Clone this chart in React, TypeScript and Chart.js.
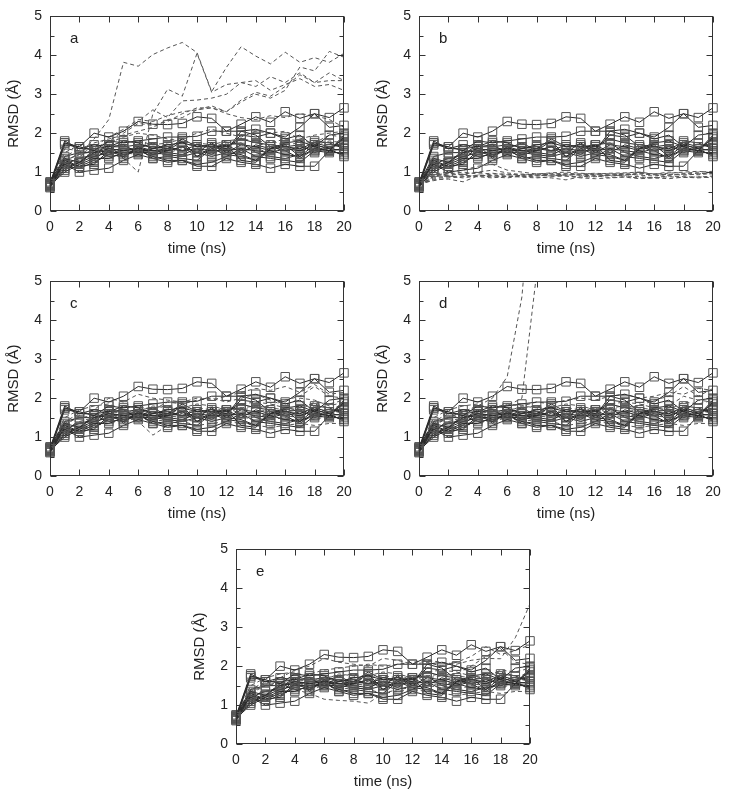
import React, { useEffect, useRef } from "react";
import { Chart, registerables } from "chart.js";

Chart.register(...registerables);

const TIME = [0, 1, 2, 3, 4, 5, 6, 7, 8, 9, 10, 11, 12, 13, 14, 15, 16, 17, 18, 19, 20];
const X_TICKS = [0, 2, 4, 6, 8, 10, 12, 14, 16, 18, 20];
const Y_TICKS = [0, 1, 2, 3, 4, 5];
const X_TITLE = "time (ns)";
const Y_TITLE = "RMSD (Å)";

// reference runs (solid lines, square markers) — identical in every panel
const ref1 = [0.70, 1.75, 1.65, 2.00, 1.90, 2.05, 2.30, 2.23, 2.22, 2.25, 2.42, 2.38, 2.05, 2.23, 2.42, 2.28, 2.55, 2.38, 2.50, 2.40, 2.65];
const ref2 = [0.65, 1.70, 1.65, 1.55, 1.80, 1.75, 1.80, 1.85, 1.90, 1.90, 1.92, 2.05, 2.05, 2.05, 2.10, 2.00, 1.90, 2.15, 2.50, 2.15, 2.20];
const ref3 = [0.72, 1.80, 1.60, 1.70, 1.65, 1.80, 1.75, 1.60, 1.70, 1.75, 1.65, 1.70, 1.60, 1.95, 1.90, 2.00, 1.85, 1.95, 1.65, 1.95, 2.00];
const ref4 = [0.68, 1.35, 1.25, 1.50, 1.60, 1.55, 1.60, 1.55, 1.55, 1.80, 1.40, 1.60, 1.70, 1.30, 1.25, 1.60, 1.75, 1.80, 1.65, 1.55, 1.90];
const ref5 = [0.62, 1.25, 1.15, 1.20, 1.55, 1.40, 1.65, 1.45, 1.55, 1.65, 1.50, 1.75, 1.50, 1.45, 1.30, 1.60, 1.70, 1.40, 1.70, 1.60, 1.85];
const ref6 = [0.75, 1.20, 1.00, 1.05, 1.10, 1.30, 1.45, 1.35, 1.25, 1.30, 1.15, 1.15, 1.35, 1.25, 1.20, 1.10, 1.20, 1.15, 1.15, 1.55, 1.45];
const ref7 = [0.66, 1.00, 1.20, 1.35, 1.35, 1.50, 1.55, 1.40, 1.30, 1.30, 1.20, 1.25, 1.40, 1.60, 1.40, 1.35, 1.30, 1.25, 1.55, 1.50, 1.50];
const ref8 = [0.70, 1.05, 1.25, 1.40, 1.50, 1.50, 1.50, 1.50, 1.45, 1.40, 1.50, 1.40, 1.50, 1.70, 1.65, 1.55, 1.45, 1.40, 1.60, 1.55, 1.60];
const ref9 = [0.64, 1.30, 1.15, 1.30, 1.65, 1.65, 1.70, 1.65, 1.60, 1.55, 1.70, 1.65, 1.65, 1.85, 1.75, 1.70, 1.65, 1.60, 1.75, 1.65, 1.75];
const ref10 = [0.68, 1.75, 1.60, 1.60, 1.65, 1.70, 1.50, 1.60, 1.65, 1.55, 1.60, 1.55, 1.55, 1.60, 1.55, 1.50, 1.60, 1.55, 1.70, 1.60, 1.55];
const ref11 = [0.72, 1.40, 1.50, 1.50, 1.55, 1.60, 1.60, 1.75, 1.55, 1.65, 1.40, 1.65, 1.70, 1.50, 1.70, 1.60, 1.65, 1.70, 1.50, 1.65, 1.70];
const ref12 = [0.60, 1.10, 1.25, 1.55, 1.40, 1.45, 1.55, 1.55, 1.60, 1.85, 1.65, 1.65, 1.55, 2.05, 1.95, 1.65, 1.55, 1.35, 1.60, 1.55, 1.95];
const ref13 = [0.70, 1.20, 1.35, 1.45, 1.70, 1.35, 1.65, 1.55, 1.50, 1.45, 1.60, 1.45, 1.70, 1.75, 1.50, 1.40, 1.35, 1.45, 1.80, 1.75, 1.60];
const ref14 = [0.66, 1.15, 1.10, 1.25, 1.45, 1.55, 1.60, 1.35, 1.40, 1.35, 1.30, 1.60, 1.45, 1.40, 1.30, 1.65, 1.55, 1.65, 1.55, 1.60, 1.40];
const REF_SERIES = [ref1, ref2, ref3, ref4, ref5, ref6, ref7, ref8, ref9, ref10, ref11, ref12, ref13, ref14];

// panel a (dashed)
const a1 = [0.70, 1.25, 1.50, 1.85, 2.35, 3.82, 3.72, 4.02, 4.19, 4.33, 4.07, 3.07, 3.69, 4.22, 3.98, 3.78, 4.08, 3.82, 3.94, 3.82, 4.05];
const a2 = [0.65, 1.10, 1.30, 1.40, 1.50, 1.35, 1.00, 2.50, 3.13, 2.95, 4.05, 3.05, 3.25, 3.30, 3.20, 3.45, 3.30, 3.55, 3.30, 3.55, 3.35];
const a3 = [0.70, 1.20, 1.40, 1.60, 1.80, 2.05, 2.30, 2.60, 2.40, 2.83, 2.85, 2.90, 3.00, 3.30, 3.35, 3.10, 3.25, 3.40, 3.20, 3.25, 3.10];
const a4 = [0.68, 1.30, 1.45, 1.65, 1.90, 2.10, 2.35, 2.30, 2.45, 2.55, 2.60, 2.70, 2.55, 2.80, 3.00, 2.90, 3.10, 3.70, 3.60, 4.10, 3.95];
const a5 = [0.66, 1.15, 1.35, 1.50, 1.70, 2.00, 2.25, 2.20, 2.30, 2.50, 2.65, 2.65, 2.55, 2.85, 3.05, 2.95, 3.20, 3.50, 3.30, 3.35, 3.35];
const a6 = [0.70, 1.40, 1.60, 1.75, 1.85, 1.95, 2.05, 2.15, 2.35, 2.40, 2.60, 2.65, 2.50, 2.40, 2.35, 2.45, 2.40, 2.50, 2.45, 2.35, 2.15];
const a7 = [0.72, 1.50, 1.70, 1.55, 1.60, 1.75, 1.80, 1.70, 1.75, 1.85, 2.00, 2.10, 2.00, 1.90, 2.05, 2.00, 2.05, 1.85, 1.95, 2.00, 2.05];
const a8 = [0.64, 1.30, 1.45, 1.55, 1.45, 1.60, 1.55, 1.45, 1.50, 1.60, 1.55, 1.60, 1.45, 1.55, 1.60, 1.50, 1.60, 1.55, 1.60, 1.55, 1.60];
const a9 = [0.68, 1.20, 1.30, 1.40, 1.55, 1.50, 1.45, 1.60, 1.70, 1.65, 1.75, 1.70, 1.80, 1.85, 1.80, 1.75, 1.85, 1.80, 1.75, 1.95, 1.90];
const a10 = [0.70, 1.60, 1.55, 1.65, 1.75, 1.90, 2.00, 1.95, 1.85, 1.80, 1.70, 1.65, 1.75, 1.70, 1.65, 1.80, 1.70, 1.75, 1.70, 1.80, 1.75];

// panel b (dashed)
const b1 = [0.70, 0.85, 0.90, 0.85, 0.90, 0.92, 0.90, 0.88, 0.90, 0.92, 0.95, 0.92, 0.90, 0.92, 0.95, 0.92, 0.90, 0.95, 0.92, 0.95, 1.00];
const b2 = [0.66, 0.95, 1.00, 1.05, 1.15, 1.20, 1.05, 1.00, 0.95, 0.98, 1.00, 0.97, 0.95, 0.97, 0.98, 1.00, 0.95, 0.97, 1.00, 1.02, 0.98];
const b3 = [0.68, 0.80, 0.82, 0.75, 0.90, 0.88, 0.85, 0.90, 0.87, 0.85, 0.80, 0.88, 0.90, 0.86, 0.88, 0.85, 0.86, 0.90, 0.88, 0.87, 0.90];
const b4 = [0.64, 0.90, 0.95, 1.00, 0.95, 0.97, 0.93, 0.95, 0.92, 0.90, 0.93, 0.92, 0.94, 0.90, 0.92, 0.95, 0.93, 0.92, 0.95, 0.97, 0.95];
const b5 = [0.70, 0.78, 0.85, 0.88, 0.92, 0.90, 0.88, 0.92, 0.95, 0.93, 0.90, 0.87, 0.88, 0.92, 0.90, 0.88, 0.85, 0.88, 0.86, 0.88, 0.85];
const b6 = [0.66, 0.88, 0.92, 0.95, 1.00, 1.05, 0.98, 0.93, 0.95, 0.97, 0.92, 0.95, 0.97, 0.95, 0.93, 0.97, 0.95, 1.00, 0.97, 1.00, 1.02];
const b7 = [0.68, 0.82, 0.88, 0.90, 0.88, 0.85, 0.90, 0.87, 0.85, 0.88, 0.90, 0.85, 0.83, 0.85, 0.87, 0.83, 0.85, 0.83, 0.87, 0.85, 0.88];
const b8 = [0.72, 0.92, 0.97, 0.92, 0.90, 0.95, 0.95, 0.90, 0.92, 0.95, 0.97, 0.95, 0.92, 0.95, 0.97, 0.98, 0.95, 0.93, 0.95, 0.93, 0.97];

// panel c (dashed)
const c1 = [0.70, 1.30, 1.55, 1.70, 2.00, 1.90, 2.10, 2.00, 1.95, 1.90, 2.00, 1.95, 2.05, 2.15, 2.25, 2.20, 2.30, 2.15, 2.35, 2.10, 2.15];
const c2 = [0.66, 1.20, 1.40, 1.50, 1.65, 1.75, 1.80, 1.70, 1.90, 1.85, 1.95, 2.00, 1.90, 2.00, 2.10, 1.95, 1.80, 2.00, 1.95, 1.80, 1.90];
const c3 = [0.68, 1.15, 1.25, 1.35, 1.40, 1.55, 1.40, 1.05, 1.30, 1.45, 1.40, 1.50, 1.60, 1.55, 1.40, 1.45, 1.50, 1.40, 1.55, 1.50, 1.55];
const c4 = [0.72, 1.40, 1.60, 1.60, 1.55, 1.60, 1.65, 1.55, 1.60, 1.70, 1.75, 1.70, 1.65, 1.75, 1.80, 1.75, 1.70, 1.80, 1.85, 1.75, 1.80];
const c5 = [0.64, 1.05, 1.15, 1.30, 1.45, 1.40, 1.50, 1.50, 1.55, 1.50, 1.55, 1.60, 1.50, 1.55, 1.50, 1.60, 1.55, 1.50, 1.45, 1.55, 1.50];
const c6 = [0.70, 1.50, 1.70, 1.80, 1.85, 1.70, 1.65, 1.80, 1.75, 1.60, 1.65, 1.70, 1.75, 1.60, 1.65, 1.70, 1.60, 1.55, 1.65, 1.70, 1.60];
const c7 = [0.66, 1.10, 1.20, 1.30, 1.35, 1.45, 1.50, 1.40, 1.45, 1.40, 1.30, 1.35, 1.40, 1.35, 1.30, 1.25, 1.30, 1.35, 1.30, 1.35, 1.35];
const c8 = [0.68, 1.25, 1.35, 1.45, 1.60, 1.65, 1.55, 1.60, 1.70, 1.75, 1.85, 1.80, 1.70, 1.85, 1.90, 1.85, 1.75, 1.70, 1.90, 1.85, 1.95];
const c9 = [0.70, 1.35, 1.50, 1.55, 1.50, 1.50, 1.60, 1.65, 1.55, 1.60, 1.50, 1.55, 1.60, 1.65, 1.60, 1.55, 1.65, 1.75, 1.60, 1.65, 1.70];
const c10 = [0.65, 1.20, 1.35, 1.40, 1.50, 1.60, 1.70, 1.75, 1.80, 1.70, 1.60, 1.65, 1.75, 1.70, 1.75, 1.80, 1.95, 2.05, 2.30, 2.05, 2.00];

// panel d (dashed) — two runs leave the plot
const d1 = [0.70, 1.30, 1.50, 1.65, 1.80, 2.00, 2.55, 4.60, 9.00, null, null, null, null, null, null, null, null, null, null, null, null];
const d2 = [0.66, 1.20, 1.40, 1.50, 1.60, 1.75, 1.80, 2.00, 5.20, null, null, null, null, null, null, null, null, null, null, null, null];
const d3 = [0.68, 1.30, 1.50, 1.65, 1.80, 1.75, 1.85, 1.80, 1.90, 1.85, 1.95, 2.00, 1.95, 2.05, 2.10, 2.00, 2.05, 2.15, 2.10, 2.25, 2.20];
const d4 = [0.72, 1.40, 1.60, 1.60, 1.55, 1.60, 1.65, 1.55, 1.60, 1.70, 1.75, 1.70, 1.65, 1.75, 1.80, 1.75, 1.70, 1.80, 2.05, 1.95, 1.90];
const d5 = [0.64, 1.05, 1.15, 1.30, 1.45, 1.40, 1.50, 1.50, 1.55, 1.50, 1.55, 1.60, 1.50, 1.55, 1.50, 1.60, 1.55, 1.50, 1.45, 1.55, 1.50];
const d6 = [0.70, 1.50, 1.70, 1.80, 1.85, 1.70, 1.65, 1.80, 1.75, 1.60, 1.65, 1.70, 1.75, 1.60, 1.65, 1.70, 1.60, 1.55, 1.65, 1.70, 1.60];
const d7 = [0.66, 1.10, 1.20, 1.30, 1.35, 1.45, 1.50, 1.40, 1.45, 1.40, 1.30, 1.35, 1.40, 1.35, 1.30, 1.25, 1.30, 1.35, 1.30, 1.35, 1.35];
const d8 = [0.68, 1.25, 1.35, 1.45, 1.60, 1.65, 1.55, 1.60, 1.70, 1.75, 1.85, 1.80, 1.70, 1.85, 1.90, 1.85, 1.75, 1.70, 1.90, 1.85, 1.95];
const d9 = [0.70, 1.35, 1.50, 1.55, 1.50, 1.50, 1.60, 1.65, 1.55, 1.60, 1.50, 1.55, 1.60, 1.65, 1.60, 1.55, 1.65, 1.75, 1.60, 1.65, 1.70];
const d10 = [0.65, 1.20, 1.35, 1.40, 1.50, 1.60, 1.70, 1.75, 1.80, 1.70, 1.60, 1.65, 1.75, 1.70, 1.75, 1.80, 1.95, 2.05, 2.30, 2.05, 2.25];

// panel e (dashed)
const e1 = [0.70, 1.30, 1.50, 1.60, 1.70, 1.80, 1.90, 1.95, 2.00, 2.05, 2.00, 2.05, 2.10, 2.15, 2.10, 2.05, 2.15, 2.20, 2.19, 2.73, 3.60];
const e2 = [0.66, 1.15, 1.25, 1.35, 1.40, 1.30, 1.15, 1.12, 1.10, 1.05, 1.30, 1.40, 1.45, 1.50, 1.45, 1.40, 1.50, 1.45, 1.50, 1.55, 1.50];
const e3 = [0.68, 1.40, 1.55, 1.70, 1.90, 2.00, 2.20, 2.10, 2.05, 2.00, 2.20, 2.15, 2.05, 2.10, 2.00, 2.10, 2.25, 2.50, 2.30, 2.40, 2.55];
const e4 = [0.72, 1.40, 1.60, 1.60, 1.55, 1.60, 1.65, 1.55, 1.60, 1.70, 1.75, 1.70, 1.65, 1.75, 1.80, 1.75, 1.70, 1.80, 1.85, 1.75, 1.80];
const e5 = [0.64, 1.05, 1.15, 1.30, 1.45, 1.40, 1.50, 1.50, 1.55, 1.50, 1.55, 1.60, 1.50, 1.55, 1.50, 1.60, 1.55, 1.50, 1.45, 1.55, 1.50];
const e6 = [0.70, 1.50, 1.70, 1.80, 1.85, 1.70, 1.65, 1.80, 1.75, 1.60, 1.65, 1.70, 1.75, 1.60, 1.65, 1.70, 1.60, 1.55, 1.65, 1.70, 1.60];
const e7 = [0.66, 1.10, 1.20, 1.30, 1.35, 1.45, 1.50, 1.40, 1.45, 1.40, 1.30, 1.35, 1.40, 1.35, 1.30, 1.25, 1.30, 1.35, 1.30, 1.35, 1.35];
const e8 = [0.68, 1.25, 1.35, 1.45, 1.60, 1.65, 1.55, 1.60, 1.70, 1.75, 1.85, 1.80, 1.70, 1.85, 1.90, 1.85, 1.75, 1.70, 1.90, 1.85, 1.95];
const e9 = [0.70, 1.35, 1.50, 1.55, 1.50, 1.50, 1.60, 1.65, 1.55, 1.60, 1.50, 1.55, 1.60, 1.65, 1.60, 1.55, 1.65, 1.75, 1.60, 1.65, 1.70];
const e10 = [0.65, 1.20, 1.35, 1.40, 1.50, 1.60, 1.70, 1.75, 1.80, 1.70, 1.60, 1.65, 1.75, 1.70, 1.75, 1.80, 2.00, 2.25, 2.45, 2.10, 2.05];

const PANEL_LETTERS = ["a", "b", "c", "d", "e"];
const PANEL_DASHED = [
  [a1, a2, a3, a4, a5, a6, a7, a8, a9, a10],
  [b1, b2, b3, b4, b5, b6, b7, b8],
  [c1, c2, c3, c4, c5, c6, c7, c8, c9, c10],
  [d1, d2, d3, d4, d5, d6, d7, d8, d9, d10],
  [e1, e2, e3, e4, e5, e6, e7, e8, e9, e10],
];

const FONT = '"Liberation Sans", Arial, Helvetica, sans-serif';

const framePlugin = {
  id: "frame",
  afterDatasetsDraw(chart: any, _args: any, opts: any) {
    const { ctx, chartArea, scales } = chart;
    const { left, right, top, bottom } = chartArea;
    const xs = scales.x;
    const ys = scales.y;
    ctx.save();
    ctx.strokeStyle = "#333";
    ctx.lineWidth = 1;
    const L = Math.round(left) + 0.5;
    const R = Math.round(right) - 0.5;
    const T = Math.round(top) + 0.5;
    const B = Math.round(bottom) - 0.5;
    ctx.strokeRect(L, T, R - L, B - T);
    ctx.beginPath();
    for (const v of X_TICKS) {
      const px = Math.round(xs.getPixelForValue(v)) + 0.5;
      ctx.moveTo(px, B);
      ctx.lineTo(px, B - 6);
      ctx.moveTo(px, T);
      ctx.lineTo(px, T + 6);
    }
    for (let i = 0; i <= 10; i++) {
      const v = i / 2;
      const py = Math.round(ys.getPixelForValue(v)) + 0.5;
      const len = i % 2 === 0 ? 6 : 4;
      ctx.moveTo(L, py);
      ctx.lineTo(L + len, py);
      ctx.moveTo(R, py);
      ctx.lineTo(R - len, py);
    }
    ctx.stroke();
    ctx.fillStyle = "#222";
    ctx.font = "15px " + FONT;
    ctx.textBaseline = "alphabetic";
    ctx.textAlign = "left";
    ctx.fillText(opts.letter, left + 20, top + 27);
    ctx.restore();
  },
};

function Panel({ idx, left, top, width, height, padRight }: any) {
  const ref = useRef<HTMLCanvasElement>(null);
  useEffect(() => {
    const canvas = ref.current;
    if (!canvas) return;
    const dashed = PANEL_DASHED[idx].map((vals) => ({
      data: TIME.map((t, i) => ({ x: t, y: vals[i] })),
      borderColor: "#555",
      borderWidth: 1,
      borderDash: [4, 3],
      pointRadius: 0,
      fill: false,
      tension: 0,
      spanGaps: false,
      clip: 0,
    }));
    const solid = REF_SERIES.map((vals) => ({
      data: TIME.map((t, i) => ({ x: t, y: vals[i] })),
      borderColor: "#2a2a2a",
      borderWidth: 1,
      pointStyle: "rect",
      pointRadius: 6,
      pointBorderColor: "#555",
      pointBorderWidth: 1,
      pointBackgroundColor: "rgba(255,255,255,0)",
      fill: false,
      tension: 0,
      clip: false,
    }));
    const chart = new Chart(canvas, {
      type: "line",
      data: { datasets: [...solid, ...dashed] as any },
      options: {
        animation: false,
        responsive: false,
        devicePixelRatio: 1,
        events: [],
        layout: { padding: { top: 11, right: padRight, left: 0, bottom: 0 } },
        plugins: {
          legend: { display: false },
          tooltip: { enabled: false },
          frame: { letter: PANEL_LETTERS[idx] },
        } as any,
        scales: {
          x: {
            type: "linear",
            min: 0,
            max: 20,
            afterFit: (s: any) => {
              s.height = 50;
            },
            afterBuildTicks: (s: any) => {
              s.ticks = X_TICKS.map((v) => ({ value: v }));
            },
            grid: { display: false, drawTicks: false },
            border: { display: false },
            ticks: {
              padding: 8,
              color: "#222",
              font: { family: FONT, size: 14 },
              maxRotation: 0,
              autoSkip: false,
            },
            title: {
              display: true,
              text: X_TITLE,
              color: "#222",
              font: { family: FONT, size: 15 },
              padding: { top: 0, bottom: 3 },
            },
          },
          y: {
            type: "linear",
            min: 0,
            max: 5,
            afterFit: (s: any) => {
              s.width = 50;
            },
            afterBuildTicks: (s: any) => {
              s.ticks = Y_TICKS.map((v) => ({ value: v }));
            },
            grid: { display: false, drawTicks: false },
            border: { display: false },
            ticks: {
              padding: 8,
              color: "#222",
              font: { family: FONT, size: 14 },
            },
            title: {
              display: true,
              text: Y_TITLE,
              color: "#222",
              font: { family: FONT, size: 15 },
              padding: { top: 5, bottom: 0 },
            },
          },
        },
      },
      plugins: [framePlugin],
    });
    return () => chart.destroy();
  }, [idx, padRight]);
  return (
    <div style={{ position: "absolute", left, top, width, height }}>
      <canvas ref={ref} width={width} height={height} style={{ display: "block" }} />
    </div>
  );
}

export default function App() {
  return (
    <div
      style={{
        position: "absolute",
        left: 0,
        top: 0,
        width: 729,
        height: 795,
        overflow: "hidden",
        background: "#fff",
      }}
    >
      <Panel idx={0} left={0} top={0} width={365} height={261} padRight={21} />
      <Panel idx={1} left={369} top={0} width={360} height={261} padRight={16} />
      <Panel idx={2} left={0} top={265} width={365} height={261} padRight={21} />
      <Panel idx={3} left={369} top={265} width={360} height={261} padRight={16} />
      <Panel idx={4} left={186} top={533} width={365} height={261} padRight={21} />
    </div>
  );
}
